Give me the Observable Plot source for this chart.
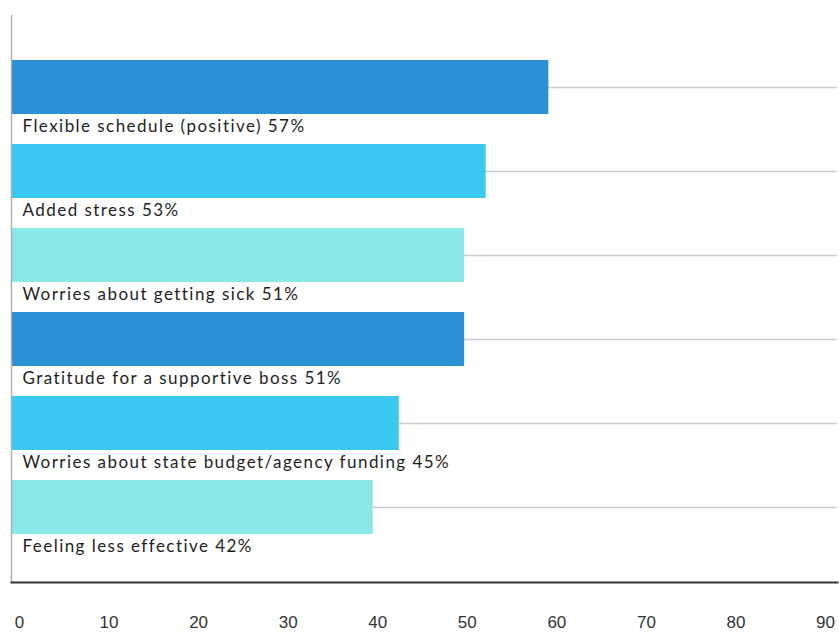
<!DOCTYPE html>
<html>
<head>
<meta charset="utf-8">
<script src="https://cdn.jsdelivr.net/npm/d3@7"></script>
<script src="https://cdn.jsdelivr.net/npm/@observablehq/plot@0.6"></script>
<style>
  html, body { margin: 0; padding: 0; background: #fff; }
  #chart svg { display: block; }
  #chart g[aria-label="text"] text { letter-spacing: 1.45px; }
</style>
</head>
<body>
<div id="chart"></div>
<script>
const categories = [
  "Flexible schedule (positive)",
  "Added stress",
  "Worries about getting sick",
  "Gratitude for a supportive boss",
  "Worries about state budget/agency funding",
  "Feeling less effective"
];
const percents = [57, 53, 51, 51, 45, 42];
const barValues = [60, 53, 50.6, 50.6, 43.3, 40.4];
const barColors = ["#2b90d5", "#38c8f0", "#88e9e8", "#2b90d5", "#38c8f0", "#88e9e8"];
const tickValues = [0, 10, 20, 30, 40, 50, 60, 70, 80, 90];

const data = categories.map((c, i) => ({
  category: c,
  value: barValues[i],
  pct: percents[i],
  color: barColors[i],
  label: `${c} ${percents[i]}%`
}));

const chart = Plot.plot({
  width: 839,
  height: 632,
  marginLeft: 11,
  marginRight: 2,
  marginTop: 15,
  marginBottom: 50,
  style: { background: "#fff" },
  x: { domain: [0, 90], range: [11, 817] },
  y: { domain: categories, range: [60, 535], paddingInner: 0.356, paddingOuter: 0, axis: null },
  marks: [
    Plot.ruleY(data, { y: "category", stroke: "#cccccc", strokeWidth: 1.5 }),
    Plot.barX(data, { x: "value", y: "category", fill: "color" }),
    Plot.text(data, {
      x: 0, y: "category", text: "label", textAnchor: "start",
      dx: 11, dy: 39, fill: "#1e1e1e", fontSize: 17,
      fontFamily: "Lato"
    }),
    Plot.ruleX([0], { stroke: "#b0b0b0", strokeWidth: 1.5 }),
    Plot.frame({ anchor: "bottom", stroke: "#333", strokeWidth: 2 }),
    Plot.axisX({
      ticks: tickValues, tickSize: 0, tickPadding: 33, dx: 8,
      fontSize: 17, fill: "#333", fontFamily: "Liberation Sans", label: null
    })
  ]
});
document.getElementById("chart").appendChild(chart);
</script>
</body>
</html>
